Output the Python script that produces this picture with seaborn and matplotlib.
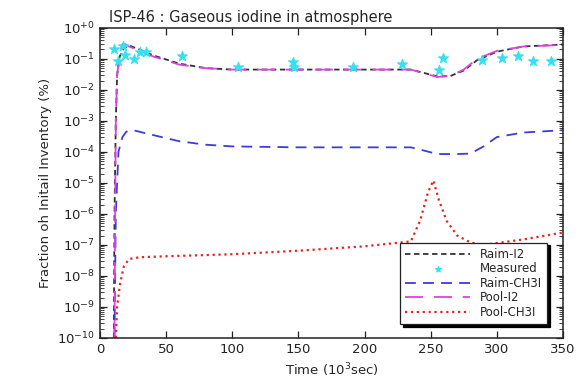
import numpy as np
import pandas as pd
import matplotlib
matplotlib.use("Agg")
import matplotlib.pyplot as plt
import matplotlib.ticker as mticker
import seaborn as sns

# ── Data ──────────────────────────────────────────────────────────────────────
raim_i2_x = [10.5, 11, 12, 13, 15, 18, 22, 30, 40, 60, 80, 100, 150, 200, 235,
             245, 255, 265, 275, 285, 300, 320, 350]
raim_i2_y = [1e-10, 1e-6, 1e-3, 0.03, 0.12, 0.22, 0.27, 0.2, 0.13, 0.07, 0.05,
             0.045, 0.045, 0.045, 0.045, 0.035, 0.027, 0.028, 0.042, 0.09,
             0.17, 0.25, 0.29]

meas_x = [11, 17.6, 14, 19, 26, 30, 35, 62, 104, 146, 147, 191, 228, 259, 256,
          289, 304, 316, 327, 341]
meas_y = [0.21, 0.25, 0.085, 0.13, 0.1, 0.17, 0.16, 0.12, 0.055, 0.08, 0.055,
          0.055, 0.07, 0.11, 0.044, 0.09, 0.11, 0.12, 0.085, 0.085]

raim_ch3i_x = [11, 11.5, 12, 14, 17, 20, 25, 40, 60, 80, 100, 150, 200, 235,
               245, 255, 270, 280, 290, 300, 320, 350]
raim_ch3i_y = [1e-10, 1e-8, 1e-6, 1e-4, 3e-4, 4.5e-4, 5e-4, 3.5e-4, 2.2e-4,
               1.7e-4, 1.5e-4, 1.4e-4, 1.4e-4, 1.4e-4, 1.1e-4, 8.5e-5, 8.5e-5,
               8.8e-5, 1.5e-4, 3e-4, 4.2e-4, 5e-4]

pool_i2_x = [11, 11.5, 12, 13, 15, 17, 19, 22, 30, 40, 60, 80, 100, 150, 200,
             235, 245, 255, 265, 275, 285, 300, 320, 350]
pool_i2_y = [1e-10, 1e-6, 1e-3, 0.03, 0.15, 0.3, 0.3, 0.25, 0.18, 0.12, 0.065,
             0.05, 0.045, 0.045, 0.045, 0.045, 0.034, 0.026, 0.028, 0.045, 0.1,
             0.18, 0.25, 0.28]

pool_ch3i_x = [12, 13, 15, 18, 22, 30, 50, 100, 150, 200, 235, 242, 248, 252,
               256, 262, 270, 280, 290, 320, 350]
pool_ch3i_y = [1e-10, 1e-9, 5e-9, 2e-8, 3.5e-8, 4e-8, 4.3e-8, 5e-8, 6.5e-8,
               9e-8, 1.3e-7, 6e-7, 5e-6, 1.2e-5, 3e-6, 6e-7, 2e-7, 1.2e-7,
               1e-7, 1.5e-7, 2.5e-7]

x_ticks = [0, 50, 100, 150, 200, 250, 300, 350]
y_exps = list(range(-10, 1))

# ── Plot ──────────────────────────────────────────────────────────────────────
sns.set_theme(style="ticks")
plt.rcParams['font.family'] = ['DejaVu Sans']

fig = plt.figure(figsize=(5.81, 3.81), dpi=100)
ax = fig.add_axes([0.172, 0.113, 0.797, 0.814])

sns.lineplot(x=raim_i2_x, y=raim_i2_y, ax=ax, color='#333333', lw=1.3,
             label='Raim-I2', sort=False)
sns.scatterplot(x=meas_x, y=meas_y, ax=ax, color='#35e0f0', marker='*', s=55,
                edgecolor='#35e0f0', linewidth=0.8, label='Measured', zorder=5)
sns.lineplot(x=raim_ch3i_x, y=raim_ch3i_y, ax=ax, color='#3c3cd8', lw=1.3,
             label='Raim-CH3I', sort=False)
sns.lineplot(x=pool_i2_x, y=pool_i2_y, ax=ax, color='#e040e0', lw=1.3,
             label='Pool-I2', sort=False)
sns.lineplot(x=pool_ch3i_x, y=pool_ch3i_y, ax=ax, color='#e82424', lw=1.6,
             label='Pool-CH3I', sort=False)

lines = ax.get_lines()
lines[0].set_dashes([3, 2])
lines[1].set_dashes([6, 4])
lines[2].set_dashes([10, 6])
lines[3].set_linestyle(':')

ax.set_yscale('log')
ax.set_xlim(0, 350)
ax.set_ylim(1e-10, 1)
ax.set_xticks(x_ticks)
ax.set_yticks([10.0 ** e for e in y_exps])
ax.set_yticklabels([r'$10^{+0}$' if e == 0 else r'$10^{%d}$' % e for e in y_exps])
ax.yaxis.set_minor_locator(mticker.LogLocator(base=10, subs=np.arange(2, 10), numticks=20))
ax.yaxis.set_minor_formatter(mticker.NullFormatter())
ax.xaxis.set_minor_locator(mticker.NullLocator())

ax.tick_params(axis='both', which='both', direction='in', top=True, right=True,
               labelsize=9.5, colors='#222222')
ax.tick_params(axis='both', which='major', length=5, width=0.9)
ax.tick_params(axis='y', which='minor', length=3, width=0.6)
for sp in ax.spines.values():
    sp.set_linewidth(1.1)
    sp.set_color('#222222')

ax.set_title('ISP-46 : Gaseous iodine in atmosphere', fontsize=10.5, pad=4,
             loc='left', x=0.02)
ax.set_xlabel(r'Time (10$^3$sec)', fontsize=9.5)
ax.set_ylabel('Fraction oh Initail Inventory (%)', fontsize=9.5)

leg = ax.legend(loc='lower right', bbox_to_anchor=(0.978, 0.026), fontsize=8.5,
                frameon=True, fancybox=False, edgecolor='#222222',
                shadow={'color': 'black', 'alpha': 1}, handlelength=5.5,
                labelspacing=0.12, borderpad=0.45, scatterpoints=1, markerscale=0.6)
leg.get_frame().set_linewidth(0.9)

plt.savefig('out.png', dpi=100)
plt.close()
